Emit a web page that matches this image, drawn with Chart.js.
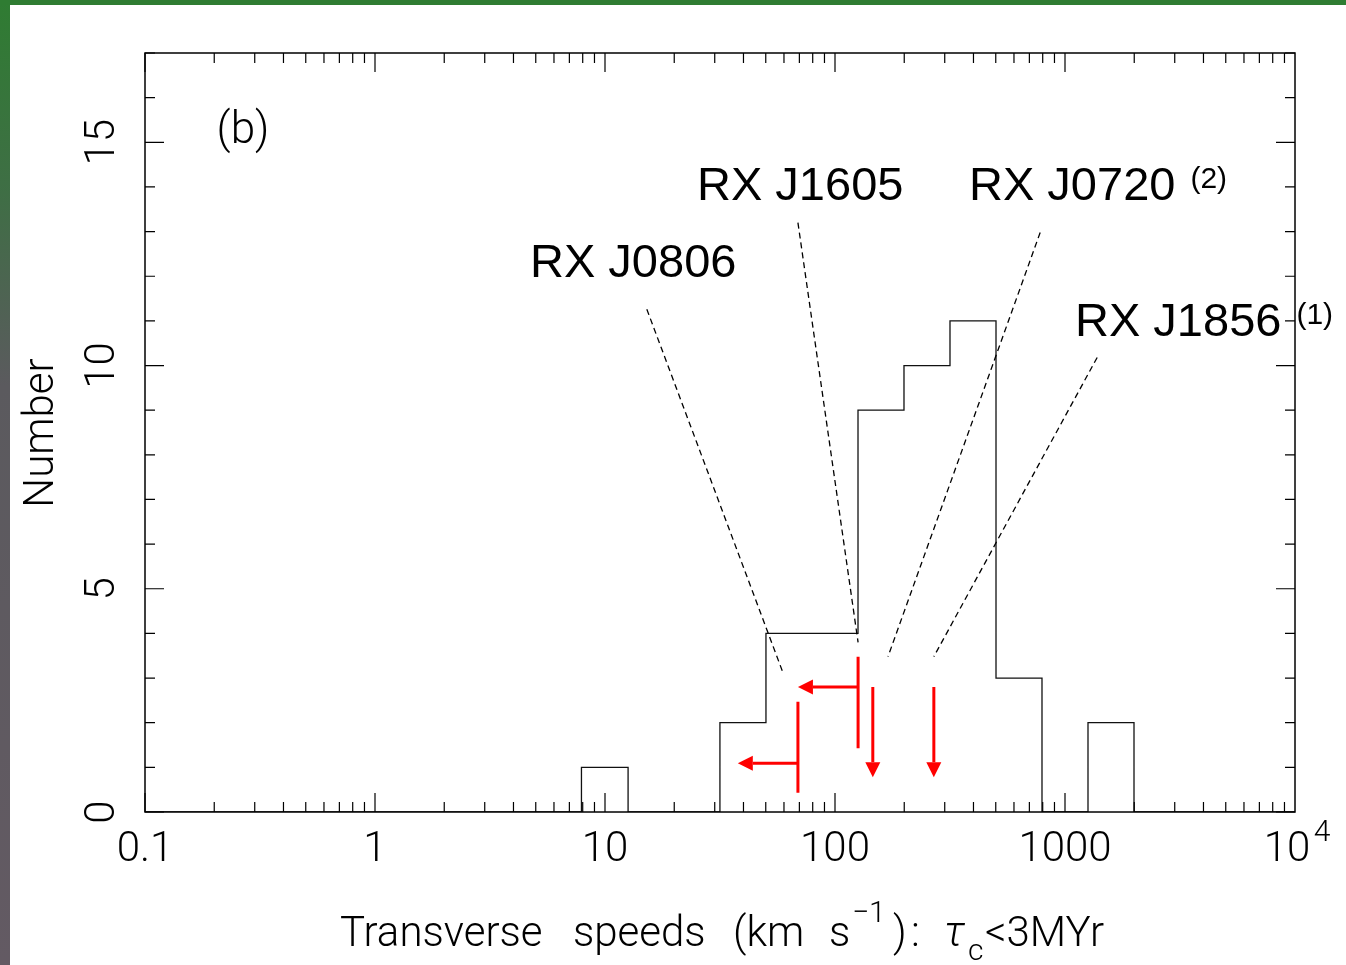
<!DOCTYPE html>
<html>
<head>
<meta charset="utf-8">
<script src="https://cdn.jsdelivr.net/npm/chart.js@4/dist/chart.umd.min.js"></script>
<style>
  html, body { margin: 0; padding: 0; background: #fff; }
  #wrap { position: relative; width: 1346px; height: 965px; }
</style>
</head>
<body>
<div id="wrap"><canvas id="chart" width="1346" height="965"></canvas></div>
<script>
// histogram bins (km/s, log-spaced edges) and counts
const binEdges = [7.9, 12.6, 20.0, 31.6, 50.1, 79.4, 125.9, 199.5, 316.2, 501.2, 794.3, 1258.9, 1995.3];
const counts = [1, 0, 0, 2, 4, 4, 9, 10, 11, 3, 0, 2];

const xTickValues = [0.1, 1, 10, 100, 1000];
const xTickLabels = ['0.1', '1', '10', '100', '1000'];
const yTickValues = [0, 5, 10, 15];

// source names and where the leader lines point (speed, number)
const srcNames = ['RX J0806', 'RX J1605', 'RX J0720', 'RX J1856'];
const srcNotes = ['', '', '(2)', '(1)'];
const leaderFrom = [[15.2, 11.26], [69, 13.2], [780, 12.98], [1380, 10.18]];
const leaderTo = [[59.4, 3.12], [126, 3.8], [170, 3.48], [269, 3.48]];

// red limits: vertical bars with left arrows (speed upper limits)
const barX = [69, 126];
const barLo = [0.43, 1.43];
const barHi = [2.47, 3.48];
const leftArrowY = [1.09, 2.8];
const leftArrowTip = [37.8, 69];
// down arrows
const downX = [146, 269];
const downTop = [2.8, 2.8];
const downTip = [0.78, 0.78];

const stepData = [{ x: 0.1, y: 0 }];
for (let i = 0; i < counts.length; i++) stepData.push({ x: binEdges[i], y: counts[i] });
stepData.push({ x: binEdges[binEdges.length - 1], y: 0 });
stepData.push({ x: 10000, y: 0 });

const FAM = 'Roboto, "DejaVu Sans", sans-serif';
const LIGHT = '300 42px ' + FAM;

const framePlugin = {
  id: 'frame',
  beforeDraw(chart) {
    const ctx = chart.ctx;
    ctx.save();
    ctx.fillStyle = '#fff';
    ctx.fillRect(0, 0, chart.width, chart.height);
    const g = ctx.createLinearGradient(0, 0, 0, chart.height);
    g.addColorStop(0, '#2f7c32');
    g.addColorStop(0.2, '#3f6e45');
    g.addColorStop(0.4, '#5b5a5e');
    g.addColorStop(1, '#635a63');
    ctx.fillStyle = g;
    ctx.fillRect(0, 0, 10, chart.height);
    ctx.fillStyle = '#2f7c32';
    ctx.fillRect(0, 0, chart.width, 5);
    ctx.restore();
  },
  afterDraw(chart) {
    const ctx = chart.ctx;
    const xs = chart.scales.x, ys = chart.scales.y;
    const a = chart.chartArea;
    ctx.save();
    ctx.strokeStyle = '#000';
    ctx.lineWidth = 1.5;
    ctx.strokeRect(a.left, a.top, a.right - a.left, a.bottom - a.top);

    // ticks on all four sides
    ctx.lineWidth = 1.2;
    ctx.beginPath();
    for (let d = -1; d <= 3; d++) {
      for (let m = 1; m <= 9; m++) {
        const v = m * Math.pow(10, d);
        const px = xs.getPixelForValue(v);
        const len = m === 1 ? 19 : 10;
        ctx.moveTo(px, a.bottom); ctx.lineTo(px, a.bottom - len);
        ctx.moveTo(px, a.top); ctx.lineTo(px, a.top + len);
      }
    }
    for (let v = 0; v <= 17; v++) {
      const py = ys.getPixelForValue(v);
      const len = v % 5 === 0 ? 19 : 10;
      ctx.moveTo(a.left, py); ctx.lineTo(a.left + len, py);
      ctx.moveTo(a.right, py); ctx.lineTo(a.right - len, py);
    }
    ctx.stroke();

    // tick labels
    ctx.fillStyle = '#000';
    ctx.font = LIGHT;
    ctx.textAlign = 'center';
    ctx.textBaseline = 'middle';
    xTickValues.forEach((v, i) => {
      ctx.fillText(xTickLabels[i], xs.getPixelForValue(v), 850);
    });
    const p4 = xs.getPixelForValue(10000);
    ctx.fillText('10', p4 - 8, 850);
    ctx.font = '300 30px ' + FAM;
    ctx.fillText('4', p4 + 27, 833);

    ctx.font = LIGHT;
    yTickValues.forEach(v => {
      ctx.save();
      ctx.translate(103, ys.getPixelForValue(v));
      ctx.rotate(-Math.PI / 2);
      ctx.fillText(String(v), 0, 0);
      ctx.restore();
    });

    // axis titles
    ctx.save();
    ctx.translate(42, 433);
    ctx.rotate(-Math.PI / 2);
    ctx.fillText('Number', 0, 0);
    ctx.restore();

    ctx.textAlign = 'left';
    ctx.textBaseline = 'alphabetic';
    const big = '300 42px ' + FAM, small = '300 30px ' + FAM;
    const titleParts = [
      ['Transverse', 340, 946, big], ['speeds', 573, 946, big], ['(km', 733, 946, big],
      ['s', 829, 946, big], ['\u22121', 852, 922, small], [')', 893, 946, big],
      [':', 911, 946, big], ['\u03c4', 944, 946, 'italic ' + big], ['c', 968, 960, small],
      ['<3MYr', 985, 946, big]
    ];
    titleParts.forEach(p => { ctx.font = p[3]; ctx.fillText(p[0], p[1], p[2]); });

    ctx.font = '300 44px ' + FAM;
    ctx.textAlign = 'center';
    ctx.textBaseline = 'middle';
    ctx.fillText('(b)', 243, 132);

    // leader lines
    ctx.setLineDash([6, 4]);
    ctx.lineWidth = 1.3;
    ctx.beginPath();
    leaderFrom.forEach((p, i) => {
      ctx.moveTo(xs.getPixelForValue(p[0]), ys.getPixelForValue(p[1]));
      ctx.lineTo(xs.getPixelForValue(leaderTo[i][0]), ys.getPixelForValue(leaderTo[i][1]));
    });
    ctx.stroke();
    ctx.setLineDash([]);

    // source labels
    const labelPos = [[530, 277], [697, 200], [969, 200], [1075, 336]];
    ctx.textAlign = 'left';
    ctx.textBaseline = 'alphabetic';
    srcNames.forEach((n, i) => {
      ctx.font = '47px "Liberation Sans", Arial, sans-serif';
      ctx.fillText(n, labelPos[i][0], labelPos[i][1]);
      if (srcNotes[i]) {
        const w = ctx.measureText(n).width;
        ctx.font = '30px "Liberation Sans", Arial, sans-serif';
        ctx.fillText(srcNotes[i], labelPos[i][0] + w + 15, labelPos[i][1] - 12);
      }
    });

    // red limits
    ctx.strokeStyle = '#ff0000';
    ctx.fillStyle = '#ff0000';
    ctx.lineWidth = 3;
    const head = 15, half = 7.5;
    barX.forEach((v, i) => {
      const px = xs.getPixelForValue(v);
      ctx.beginPath();
      ctx.moveTo(px, ys.getPixelForValue(barLo[i]));
      ctx.lineTo(px, ys.getPixelForValue(barHi[i]));
      const py = ys.getPixelForValue(leftArrowY[i]);
      const tx = xs.getPixelForValue(leftArrowTip[i]);
      ctx.moveTo(px, py);
      ctx.lineTo(tx + head, py);
      ctx.stroke();
      ctx.beginPath();
      ctx.moveTo(tx, py);
      ctx.lineTo(tx + head, py - half);
      ctx.lineTo(tx + head, py + half);
      ctx.closePath();
      ctx.fill();
    });
    downX.forEach((v, i) => {
      const px = xs.getPixelForValue(v);
      const ty = ys.getPixelForValue(downTip[i]);
      ctx.beginPath();
      ctx.moveTo(px, ys.getPixelForValue(downTop[i]));
      ctx.lineTo(px, ty - head);
      ctx.stroke();
      ctx.beginPath();
      ctx.moveTo(px, ty);
      ctx.lineTo(px - half, ty - head);
      ctx.lineTo(px + half, ty - head);
      ctx.closePath();
      ctx.fill();
    });
    ctx.restore();
  }
};

new Chart(document.getElementById('chart'), {
  type: 'line',
  data: {
    datasets: [{
      data: stepData,
      stepped: 'before',
      borderColor: '#111',
      borderWidth: 1.3,
      pointRadius: 0,
      fill: false
    }]
  },
  options: {
    responsive: false,
    animation: false,
    layout: { padding: { left: 145, top: 53, right: 51, bottom: 153 } },
    plugins: { legend: { display: false }, tooltip: { enabled: false } },
    scales: {
      x: { type: 'logarithmic', min: 0.1, max: 10000, display: false },
      y: { type: 'linear', min: 0, max: 17, display: false }
    }
  },
  plugins: [framePlugin]
});
</script>
</body>
</html>
